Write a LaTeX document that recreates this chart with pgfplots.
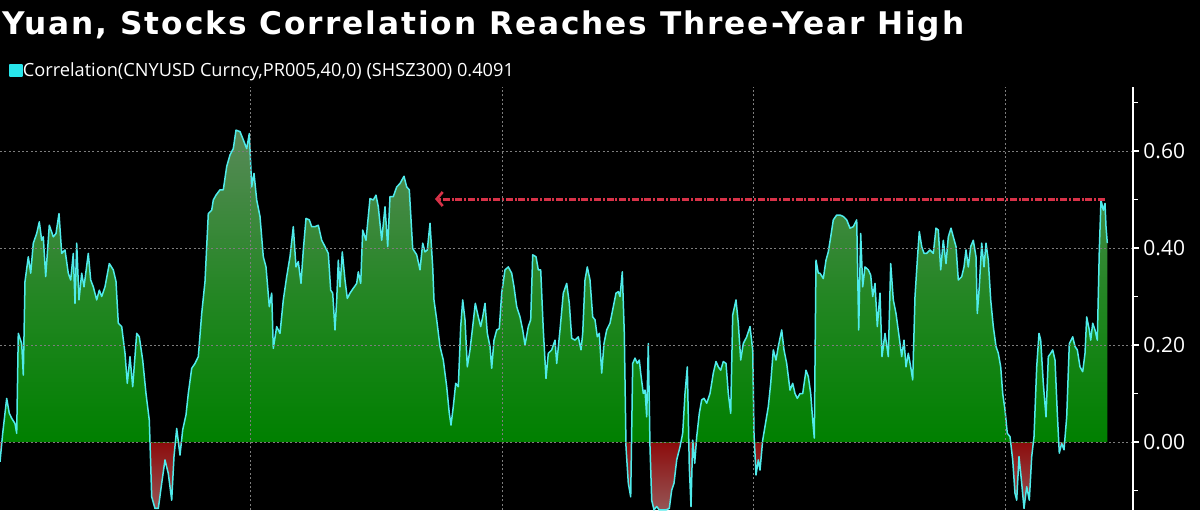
\documentclass[border=0pt]{standalone}
\usepackage{pgfplots}
\usepackage{pgfplotstable}
\pgfplotsset{compat=1.18}
\usepackage{fontspec}
\setmainfont{Open Sans}
\newfontfamily\titlefont{DejaVu Sans}[LetterSpace=6.2]
\usetikzlibrary{arrows.meta}

\definecolor{redlo}{RGB}{150,85,85}
\definecolor{redhi}{RGB}{140,12,12}
\definecolor{greenlo}{RGB}{0,128,0}
\definecolor{greenmid}{RGB}{35,134,35}
\definecolor{greenhi}{RGB}{88,138,88}
\definecolor{corrline}{RGB}{80,235,235}
\definecolor{legcyan}{RGB}{40,230,235}
\definecolor{arrowred}{RGB}{215,50,72}
\definecolor{gridgray}{RGB}{125,125,125}

% zero lies at (0.140/0.783) of the path box -> 33.94bp
\pgfdeclareverticalshading{corrshade}{100bp}{color(0bp)=(redlo); color(25bp)=(redlo); color(33.93bp)=(redhi); color(33.95bp)=(greenlo); color(53bp)=(greenmid); color(75bp)=(greenhi); color(100bp)=(greenhi)}

\pgfplotstableread{
x y
0 -0.041
2.7 0.018
6.7 0.090
9.3 0.059
11.7 0.049
15 0.038
16.7 0.018
18.3 0.224
21.7 0.203
23.3 0.138
25 0.331
28.3 0.382
30.7 0.348
33.3 0.410
36.7 0.430
39.3 0.454
41.7 0.416
43.3 0.423
45.7 0.341
49.3 0.447
53.3 0.423
56 0.430
59 0.471
61.7 0.389
65 0.396
68.3 0.348
70.7 0.334
73.3 0.389
75 0.286
76.7 0.410
79 0.293
81.7 0.348
84 0.320
88.3 0.389
90.7 0.334
93.3 0.320
96.7 0.293
99.3 0.313
101.7 0.300
105 0.320
109.3 0.368
113.3 0.355
116 0.331
118.3 0.245
121.7 0.238
125 0.183
127.3 0.121
130 0.176
132.7 0.114
136.7 0.224
139.3 0.217
142.7 0.169
146 0.100
149.3 0.045
151.7 -0.113
155 -0.137
158.3 -0.137
161.7 -0.085
165 -0.037
168.3 -0.065
171.7 -0.120
174 -0.030
176.7 0.028
180 -0.027
182.7 0.025
186 0.056
188.3 0.100
191.7 0.152
195 0.162
198.3 0.176
201.7 0.265
205 0.331
208.3 0.471
211.7 0.478
213.3 0.499
216 0.509
220 0.520
223.3 0.520
226.7 0.568
230 0.592
233.3 0.605
236 0.643
240 0.640
243.3 0.623
246.7 0.605
249.3 0.636
251.7 0.526
254 0.554
256.7 0.499
260 0.465
263.3 0.382
266 0.361
269.3 0.279
271.7 0.307
273.3 0.193
276.7 0.238
280 0.224
283.3 0.293
286.7 0.341
290 0.382
293.3 0.444
296 0.361
298.3 0.372
301 0.327
303.3 0.396
306 0.461
309.3 0.458
311.7 0.444
315 0.444
318.3 0.447
321.7 0.416
325 0.403
328.3 0.389
330.7 0.313
332.7 0.307
335 0.231
336.7 0.293
338.3 0.375
340 0.320
342.3 0.392
345 0.334
347.3 0.296
350 0.307
353.3 0.317
356.7 0.327
358.3 0.351
360.7 0.327
362.7 0.437
366 0.416
370 0.502
373.3 0.499
376 0.509
378.3 0.485
381.7 0.416
385 0.485
387.7 0.403
390 0.506
393.3 0.506
396.7 0.526
400 0.533
404 0.548
406.7 0.526
409.3 0.520
412.7 0.399
416.7 0.386
420 0.355
422.7 0.410
425 0.392
427.3 0.396
430 0.451
432.7 0.361
434 0.293
436.7 0.252
440 0.197
443.3 0.169
446.7 0.114
449.3 0.059
451 0.035
453.3 0.073
455.7 0.121
458.3 0.114
460.7 0.238
462.7 0.293
465 0.252
467.3 0.155
470 0.190
472.7 0.238
475.3 0.286
478.3 0.258
480.7 0.238
482.7 0.258
485 0.286
487.3 0.224
490 0.197
491.7 0.152
494 0.210
496.7 0.231
499.3 0.234
501.7 0.307
505 0.355
508.3 0.361
511.7 0.348
514 0.320
516.7 0.279
520 0.258
522.7 0.231
525 0.200
528.3 0.238
530.7 0.252
532.7 0.386
536 0.382
538.3 0.355
540.7 0.355
543.3 0.231
546 0.131
548.3 0.183
551.7 0.190
555 0.210
556.7 0.162
560 0.231
563.3 0.307
566.7 0.327
569.3 0.286
571.7 0.214
575 0.210
578.3 0.217
581 0.190
582.7 0.224
585 0.334
587.3 0.361
590 0.334
592.7 0.258
595 0.252
597.3 0.217
599.3 0.224
601.7 0.142
604 0.203
606.7 0.231
610 0.245
613.3 0.279
616 0.307
618.3 0.310
620 0.300
622.3 0.351
624.3 0.224
626 -0.010
628.3 -0.085
630.7 -0.113
632.7 0.162
635 0.173
637.3 0.162
639.3 0.169
640.7 0.142
643.3 0.100
645 0.107
646.7 0.052
648.3 0.203
650 -0.010
651.7 -0.120
654 -0.140
656.7 -0.133
659.3 -0.140
662.7 -0.140
666 -0.140
669.3 -0.137
671.7 -0.099
674 -0.085
676.7 -0.037
680 -0.010
682.7 0.018
685 0.100
687.3 0.155
689.3 -0.051
691 -0.133
692.7 0.004
694.7 -0.044
696.7 0.011
699.3 0.059
701.7 0.087
704 0.090
706.7 0.080
710 0.100
713.3 0.142
716 0.166
718.3 0.155
720.7 0.148
723.3 0.166
726 0.162
728.3 0.100
730.7 0.059
732.7 0.262
736 0.293
738.3 0.245
740.7 0.169
743.3 0.203
746.7 0.217
750 0.238
752.7 0.190
754 0.018
756 -0.068
758.3 -0.037
760 -0.058
762.7 0.004
765 0.032
768.3 0.073
770.7 0.121
773.3 0.190
776 0.169
778.3 0.197
781.7 0.231
784 0.190
786.7 0.162
790 0.107
792.7 0.121
795 0.100
797.3 0.090
800 0.100
802.7 0.100
806 0.148
808.3 0.135
810.7 0.100
812.7 0.045
814.3 0.008
816 0.375
818.3 0.348
820 0.348
823.3 0.337
826 0.375
828.3 0.392
830.7 0.423
833.3 0.458
836.7 0.468
840 0.468
843.3 0.465
846.7 0.458
850 0.441
853.3 0.444
856.7 0.458
858.7 0.231
860.7 0.430
862.7 0.320
865 0.361
868.3 0.355
870.7 0.344
872.7 0.300
875 0.327
877.3 0.238
880 0.307
882 0.176
885 0.224
888.3 0.176
890.7 0.368
893.3 0.293
896 0.265
898.7 0.224
901.7 0.176
904 0.210
906 0.155
908.3 0.183
910.7 0.155
912.7 0.128
915 0.300
917.3 0.375
919.3 0.434
921.7 0.403
924 0.389
926.7 0.389
930 0.396
933.3 0.389
936 0.441
938.3 0.437
940.7 0.355
943.3 0.416
946 0.368
948.3 0.423
951 0.441
953.3 0.423
956 0.403
958.3 0.334
961.7 0.341
964 0.361
966 0.396
968.3 0.361
970.7 0.403
973.3 0.416
976 0.382
977.3 0.265
979.3 0.320
981.7 0.410
984 0.361
986 0.410
988.3 0.375
990.7 0.293
993.3 0.238
996 0.197
998.3 0.183
1000.7 0.155
1002.7 0.100
1005 0.066
1007.3 0.018
1010 0.011
1012.7 -0.037
1015 -0.106
1016.7 -0.120
1019 -0.030
1021.7 -0.085
1024 -0.137
1026.7 -0.092
1029.3 -0.120
1031.7 -0.030
1034 0.011
1036.7 0.155
1039 0.224
1040.7 0.210
1043.3 0.121
1046 0.052
1048.3 0.176
1050.7 0.183
1052.7 0.190
1055 0.169
1057.3 0.059
1059.3 -0.023
1061.7 -0.003
1064 -0.016
1066.7 0.052
1069.3 0.203
1072.7 0.217
1075 0.197
1077.3 0.190
1080 0.155
1082.7 0.145
1085 0.183
1086.7 0.258
1089.3 0.231
1090.7 0.210
1092.7 0.245
1095 0.231
1097.3 0.210
1099.3 0.396
1101 0.499
1103.3 0.478
1105 0.492
1106 0.444
1107.3 0.410
}\corr

\begin{document}
\begin{tikzpicture}
\fill[black] (0pt,0pt) rectangle (600pt,255pt);
\useasboundingbox (0pt,0pt) rectangle (600pt,255pt);
\node[anchor=base west, inner sep=0pt, text=white, font=\titlefont\bfseries\fontsize{15.6}{19}\selectfont] at (1pt,237.5pt) {Yuan, Stocks Correlation Reaches Three-Year High};
\begin{axis}[
  at={(0pt,0pt)}, anchor=south west,
  scale only axis, width=566.5pt, height=211.5pt,
  xmin=0, xmax=1133, ymin=-0.1402, ymax=0.732,
  axis on top,
  axis y line*=right, axis x line*=bottom,
  x axis line style={draw=none},
  y axis line style={white, line width=0.6pt},
  xtick={250,502,753,1005}, xticklabels={},
  major x tick style={draw=none},
  ytick={0,0.2,0.4,0.6},
  minor ytick={-0.1,0.1,0.3,0.5,0.7},
  tick align=outside,
  major tick length=3pt, minor tick length=2.5pt,
  y tick style={white, line width=0.6pt},
  grid=major,
  major grid style={gridgray, line width=0.4pt, dash pattern=on 1pt off 1.2pt},
  yticklabel style={text=white, font=\fontsize{10.5}{12}\selectfont, inner sep=0pt, xshift=2pt},
  /pgf/number format/.cd, fixed, fixed zerofill, precision=2, assume math mode=true,
  /pgfplots/.cd,
  clip=true,
  legend style={at={(0,1)}, anchor=south west, xshift=4.5pt, yshift=3.3pt,
    draw=none, fill=none, text=white, inner sep=0pt,
    font=\fontsize{9.1}{11}\selectfont,
    nodes={inner sep=0pt},
    /tikz/every even column/.append style={column sep=2pt}},
  legend image code/.code={\fill[legcyan] (0pt,-2.2pt) rectangle (6pt,3.4pt);},
]
\addplot[draw=none, shade, shading=corrshade, forget plot] table {\corr} \closedcycle;
\addplot[corrline, line width=0.75pt, line join=round] table {\corr};
\addlegendentry{Correlation(CNYUSD Curncy,PR005,40,0) (SHSZ300) 0.4091}
\addplot[arrowred, line width=1.5pt, dash pattern=on 3.5pt off 0.9pt on 1pt off 0.9pt,
  -{Straight Barb[length=3pt, width=7pt, line width=1.3pt]}, forget plot]
  coordinates {(1105,0.501) (435,0.501)};
\end{axis}
\end{tikzpicture}
\end{document}
